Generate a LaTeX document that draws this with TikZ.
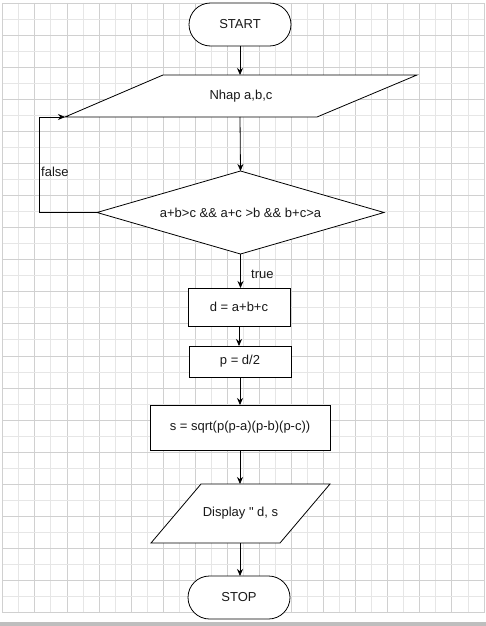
\documentclass[tikz,border=0pt]{standalone}
\usepackage{fontspec}
\setmainfont{Liberation Sans}
\usetikzlibrary{shapes.geometric,arrows.meta}
\definecolor{gridmaj}{RGB}{208,208,208}
\definecolor{gridmin}{RGB}{230,230,230}
\definecolor{barcol}{RGB}{190,190,190}
\tikzset{
  fc/.style={draw=black, line width=0.8pt, fill=white, inner sep=0pt, outer sep=0pt,
             font=\fontsize{13}{15.6}\selectfont, text=black!90},
  term/.style={fc, rectangle, rounded corners=21.5pt, minimum width=102pt, minimum height=43pt},
  procbox/.style={fc, rectangle},
  iobox/.style={rectangle, inner sep=0pt, outer sep=0pt,
             font=\fontsize{13}{15.6}\selectfont, text=black!90},
  ioline/.style={draw=black, line width=0.8pt, fill=white, line join=miter},
  decbox/.style={fc, diamond, aspect=3.46, minimum width=287pt, minimum height=83pt},
  arr/.style={draw=black, line width=0.8pt, -{Stealth[length=7pt,width=6pt]}},
  lbl/.style={font=\fontsize{13}{15.6}\selectfont, text=black!90, inner sep=0pt}
}
\begin{document}
\begin{tikzpicture}[x=1pt,y=-1pt]
\useasboundingbox (0,0) rectangle (486,626);
\fill[white] (0,0) rectangle (486,626);
% grid
\foreach \k in {0,...,30}{
  \pgfmathsetmacro{\xx}{2.7+16.04*\k}
  \pgfmathparse{int(mod(\k,2))}
  \ifnum\pgfmathresult=0
    \draw[gridmaj, line width=0.7pt] (\xx,3) -- (\xx,612.7);
  \else
    \draw[gridmin, line width=0.7pt] (\xx,3) -- (\xx,612.7);
  \fi
}
\foreach \k in {0,...,38}{
  \pgfmathsetmacro{\yy}{3+16.04*\k}
  \pgfmathparse{int(mod(\k,2))}
  \ifnum\pgfmathresult=0
    \draw[gridmaj, line width=0.7pt] (2.7,\yy) -- (484,\yy);
  \else
    \draw[gridmin, line width=0.7pt] (2.7,\yy) -- (484,\yy);
  \fi
}
\fill[barcol] (0,621.5) rectangle (486,626);

% input parallelogram (x 65..417, y 75..117)
\filldraw[ioline] (163,75) -- (417,75) -- (317,117) -- (65,117) -- cycle;
% output parallelogram (x 151..330, y 484..543)
\filldraw[ioline] (201,484) -- (330,484) -- (280,543) -- (151,543) -- cycle;

% nodes
\node[term] (start) at (240,24.5) {START};
\node[iobox, minimum width=352pt, minimum height=42pt] (in) at (241,96) {Nhap a,b,c};
\node[decbox] (dec) at (240.5,212.5) {a+b>c \&\& a+c >b \&\& b+c>a};
\node[procbox, minimum width=102pt, minimum height=38pt] (d) at (239,307) {d = a+b+c};
\node[procbox, minimum width=102pt, minimum height=31pt] (p) at (240,361.5) {p = d/2};
\node[procbox, minimum width=180pt, minimum height=45pt] (s) at (240,427.5) {s = sqrt(p(p-a)(p-b)(p-c))};
\node[iobox, minimum width=179pt, minimum height=59pt] (out) at (240.5,513.5) {Display \textquotedbl\ d, s};
\node[term] (stop) at (239,597.5) {STOP};

% connectors
\draw[arr] (start.south) -- (start.south |- in.north);
\draw[arr] (start.south |- in.south) -- (dec.north);
\draw[arr] (dec.south) -- (dec.south |- d.north);
\draw[arr] (d.south) -- (d.south |- p.north);
\draw[arr] (p.south) -- (p.south |- s.north);
\draw[arr] (s.south) -- (s.south |- out.north);
\draw[arr] (s.south |- out.south) -- (s.south |- stop.north);
\draw[arr] (dec.west) -- ([xshift=-58pt]dec.west) |- (in.south west);

% labels
\node[lbl, anchor=west] (lfalse) at (41,172) {false};
\node[lbl, anchor=west] (ltrue) at (251,274) {true};
\end{tikzpicture}
\end{document}
